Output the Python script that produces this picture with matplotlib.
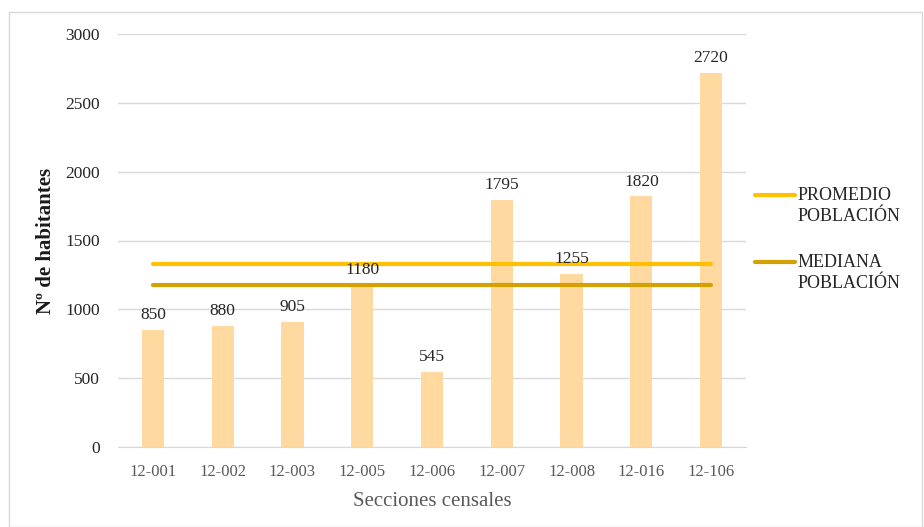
import matplotlib
matplotlib.use("Agg")
import matplotlib.pyplot as plt
from matplotlib.patches import Rectangle
from matplotlib.lines import Line2D

categories = ["12-001", "12-002", "12-003", "12-005", "12-006", "12-007", "12-008", "12-016", "12-106"]
habitantes = [850, 880, 905, 1180, 545, 1795, 1255, 1820, 2720]
promedio = 1327.8
mediana = 1180
y_ticks = [0, 500, 1000, 1500, 2000, 2500, 3000]
series_labels = ["PROMEDIO\nPOBLACIÓN", "MEDIANA\nPOBLACIÓN"]
series_colors = ["#FFC000", "#D4A100"]

FONT = ["Liberation Serif", "DejaVu Serif"]
plt.rcParams["font.family"] = FONT

W, H = 924, 527
fig = plt.figure(figsize=(9.24, 5.27), dpi=100)
fig.patches.append(Rectangle((9 / W, 0), 1 - 9 / W - 0.002, 1 - 12 / H, transform=fig.transFigure,
                             fill=False, edgecolor="#D9D9D9", linewidth=1))
ax = fig.add_axes([118 / W, 1 - 447 / H, (746 - 118) / W, (447 - 34) / H])

x = list(range(len(categories)))
ax.bar(x, habitantes, width=0.32, color="#FFD99F", zorder=2)
for xi, v in zip(x, habitantes):
    ax.annotate(str(v), (xi, v), xytext=(0, 5), textcoords="offset points",
                ha="center", va="bottom", fontsize=12.5, color="#262626", zorder=4)

for val, col, lab in zip([promedio, mediana], series_colors, series_labels):
    ax.plot(x, [val] * len(x), color=col, lw=3, solid_capstyle="round", zorder=3, label=lab)

ax.set_xlim(-0.5, len(x) - 0.5)
ax.set_ylim(0, 3000)
ax.set_yticks(y_ticks)
ax.set_yticklabels([str(t) for t in y_ticks])
ax.set_xticks(x)
ax.set_xticklabels(categories)
ax.yaxis.grid(True, color="#D9D9D9", lw=1, zorder=0)
ax.set_axisbelow(True)
for s in ["top", "right", "left"]:
    ax.spines[s].set_visible(False)
ax.spines["bottom"].set_color("#D9D9D9")
ax.tick_params(axis="both", length=0)
ax.tick_params(axis="y", pad=13, labelsize=12.5, labelcolor="#262626")
ax.tick_params(axis="x", pad=12, labelsize=12, labelcolor="#595959")
ax.set_xlabel("Secciones censales", fontsize=15, color="#595959", labelpad=9)
ax.set_ylabel("Nº de habitantes", fontsize=15, color="#1a1a1a", fontweight="bold", labelpad=7)

# legend drawn at the right side
legend_tops = [187, 254]
for lab, col, top in zip(series_labels, series_colors, legend_tops):
    yc = 1 - (top + 8) / H
    fig.add_artist(Line2D([755 / W, 795 / W], [yc, yc], transform=fig.transFigure,
                          color=col, lw=3, solid_capstyle="round"))
    fig.text(798 / W, 1 - top / H, lab, ha="left", va="top", fontsize=13,
             color="#262626", linespacing=1.28)

fig.savefig("out.png", dpi=100)
